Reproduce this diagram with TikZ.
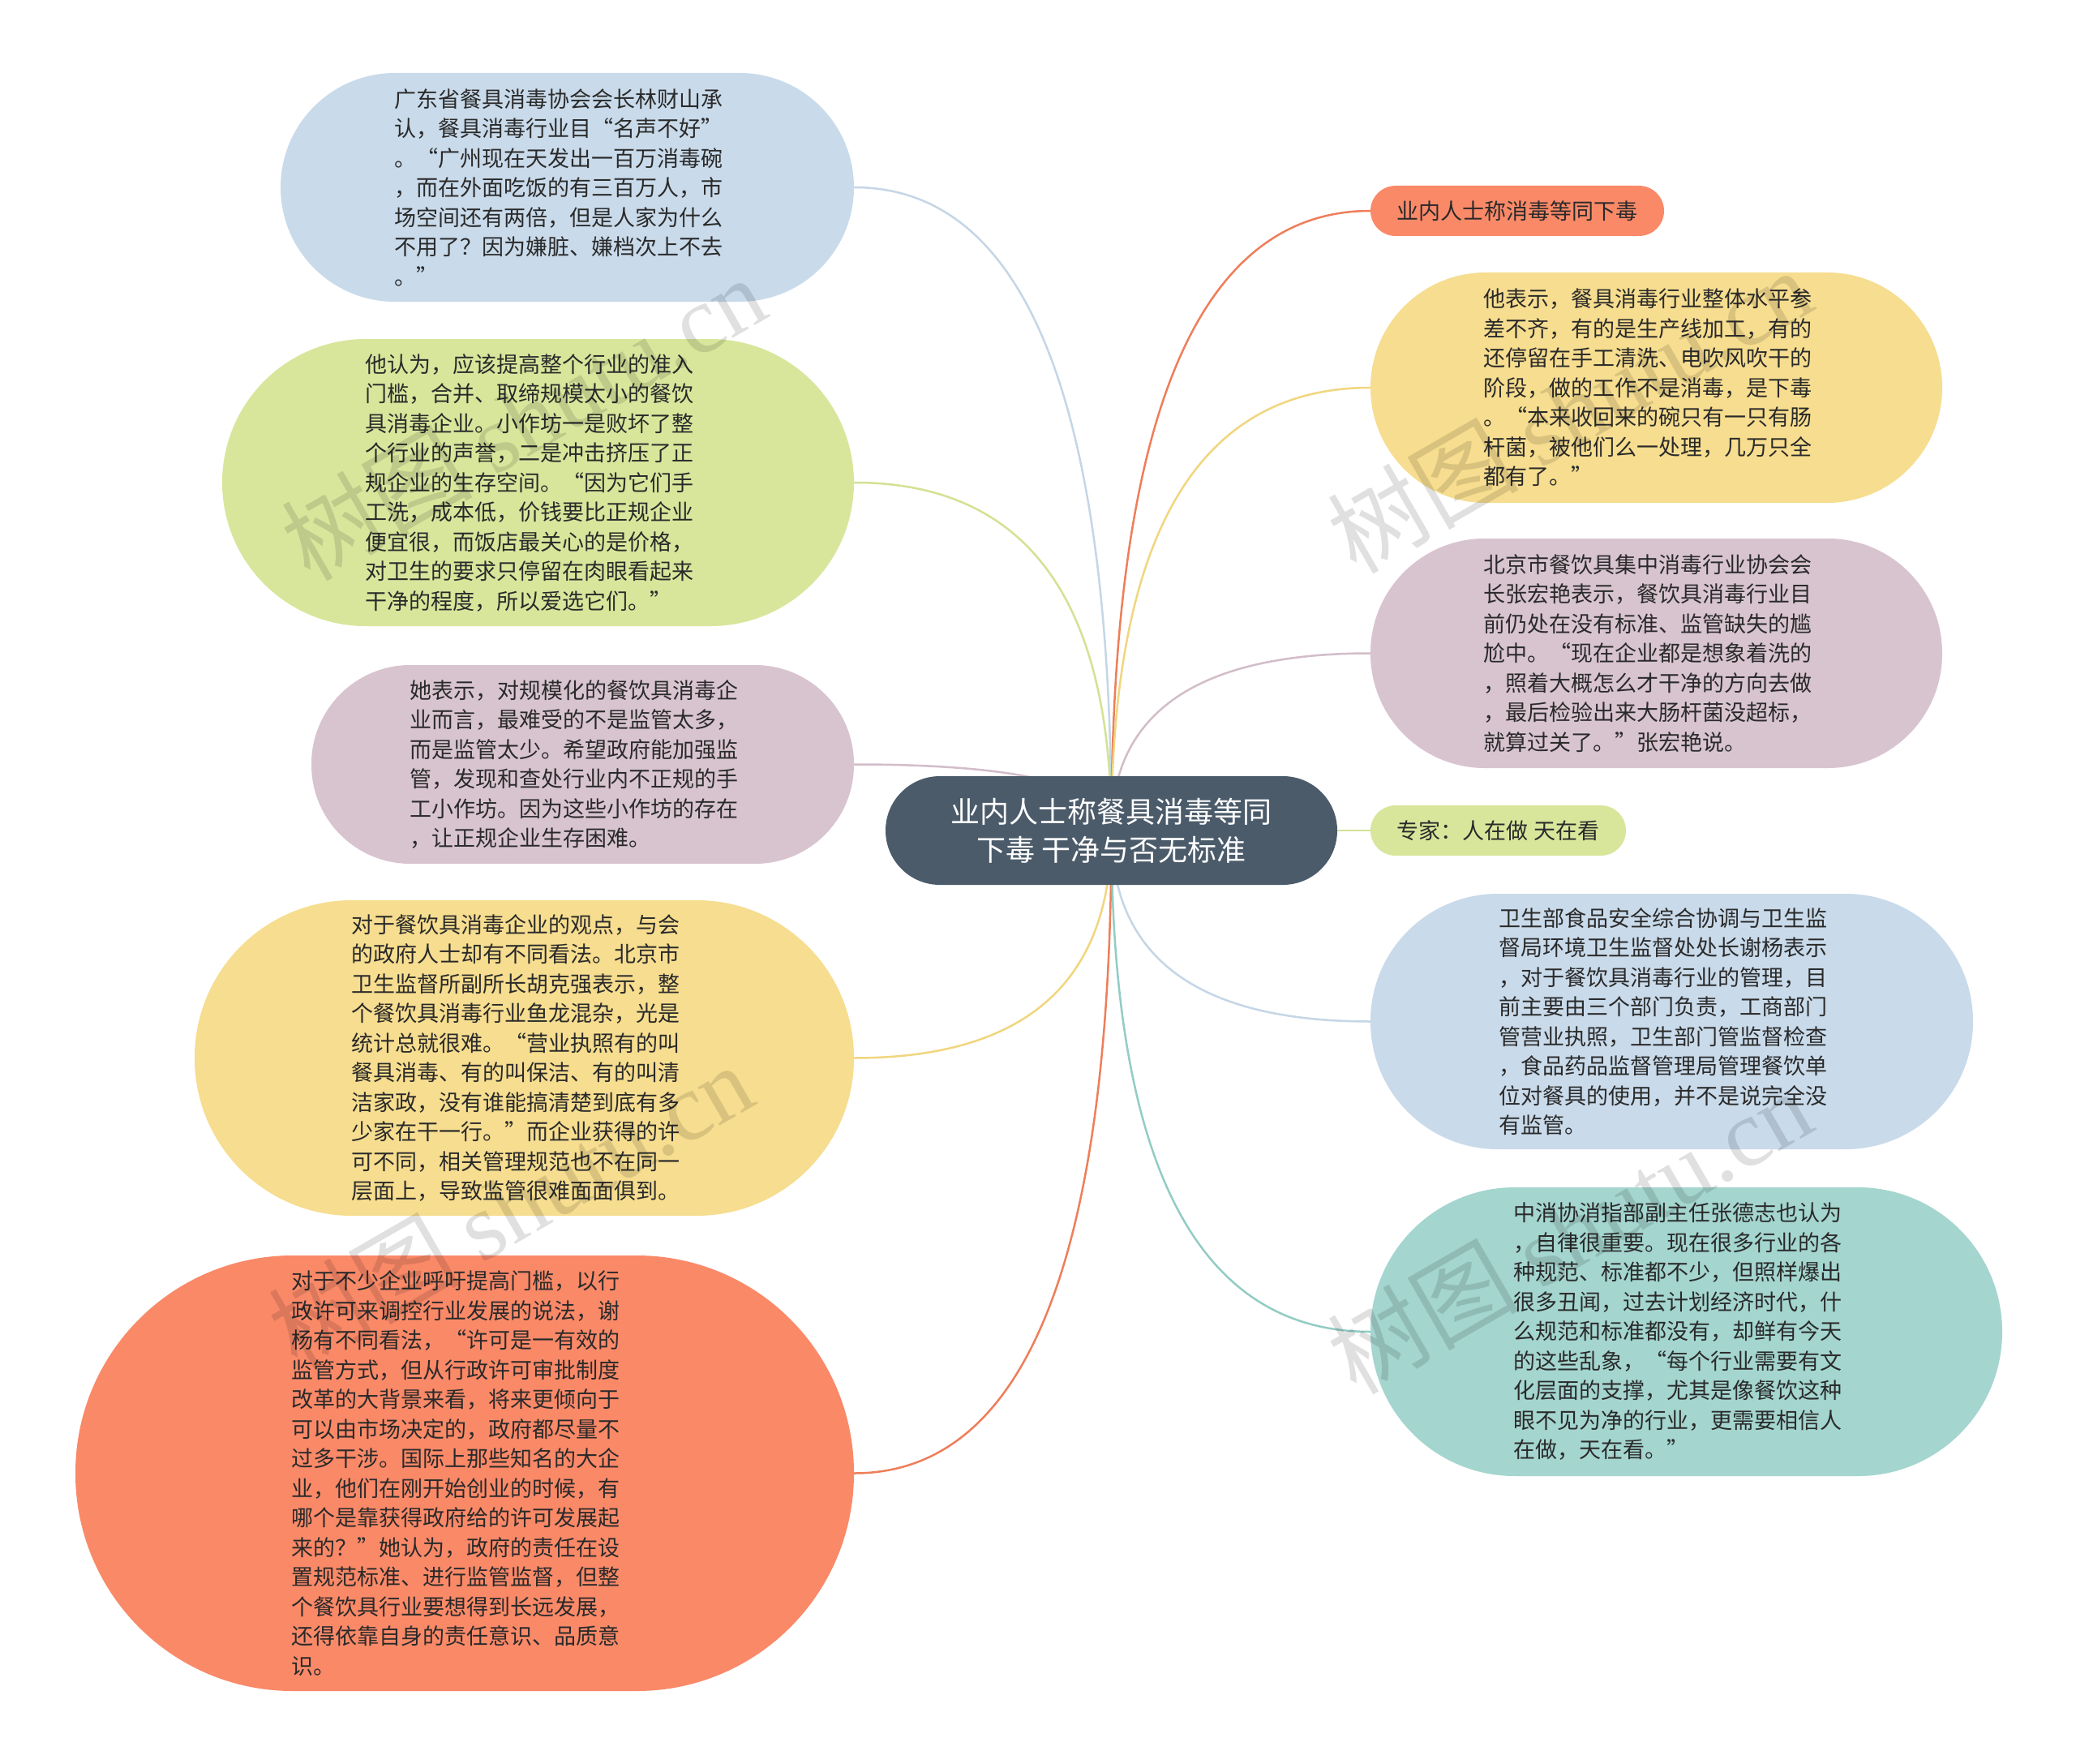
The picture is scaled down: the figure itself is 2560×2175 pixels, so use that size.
\documentclass[tikz,border=0pt]{standalone}
\usepackage{fontspec}
\setmainfont{Noto Sans CJK SC}
\newfontfamily\wmserif{Liberation Serif}
\usetikzlibrary{calc,backgrounds}
\definecolor{txt}{HTML}{2A2A2A}
\definecolor{cblue}{HTML}{C9DAEA}
\definecolor{cgreen}{HTML}{D8E69C}
\definecolor{cpink}{HTML}{D8C4CF}
\definecolor{cyellow}{HTML}{F6DD8F}
\definecolor{corange}{HTML}{FA8968}
\definecolor{cteal}{HTML}{A4D5CF}
\definecolor{croot}{HTML}{4B5B6A}
\definecolor{lblue}{HTML}{C5D6E6}
\definecolor{lgreen}{HTML}{D3E293}
\definecolor{lpink}{HTML}{D2BDC9}
\definecolor{lyellow}{HTML}{F1D67E}
\definecolor{lorange}{HTML}{EE7E5A}
\definecolor{lteal}{HTML}{93CCC4}
\tikzset{
  bubble/.style={draw=none, align=left, inner sep=0pt, text=txt,
    font=\fontsize{27}{36.5}\selectfont},
  bigtext/.style={bubble, text width=427pt},
  rootbox/.style={draw=none, fill=croot, align=center, inner sep=0pt, text=white,
    font=\fontsize{36}{47}\selectfont},
  link/.style={line width=2.5pt},
  wmark/.style={text=black, opacity=0.12, rotate=30, font=\fontsize{118}{118}\selectfont}
}
\newcommand{\myconn}[2]{\draw[link,draw=#1] (root.center) .. controls ($(root.center)!0.6667!(root.center |- #2)$) and ($(#2)!0.6667!(root.center |- #2)$) .. (#2);}
\begin{document}
\begin{tikzpicture}[x=1pt,y=-1pt]
\useasboundingbox (0,0) rectangle (2560,2175);

% root
\node[rootbox, minimum width=557pt, minimum height=134pt, rounded corners=67pt] (root) at (1370.5,1024)
  {业内人士称餐具消毒等同\\下毒 干净与否无标准};

% left nodes
\node[bigtext, fill=cblue, minimum width=707pt, minimum height=282pt, rounded corners=141pt] (n1) at (699.5,231)
{广东省餐具消毒协会会长林财山承\\认，餐具消毒行业目“名声不好”\\。“广州现在天发出一百万消毒碗\\，而在外面吃饭的有三百万人，市\\场空间还有两倍，但是人家为什么\\不用了？因为嫌脏、嫌档次上不去\\。”};

\node[bigtext, fill=cgreen, minimum width=779pt, minimum height=354pt, rounded corners=177pt] (n2) at (663.5,595)
{他认为，应该提高整个行业的准入\\门槛，合并、取缔规模太小的餐饮\\具消毒企业。小作坊一是败坏了整\\个行业的声誉，二是冲击挤压了正\\规企业的生存空间。“因为它们手\\工洗，成本低，价钱要比正规企业\\便宜很，而饭店最关心的是价格，\\对卫生的要求只停留在肉眼看起来\\干净的程度，所以爱选它们。”};

\node[bigtext, fill=cpink, minimum width=669pt, minimum height=245pt, rounded corners=122pt] (n3) at (718.5,942.5)
{她表示，对规模化的餐饮具消毒企\\业而言，最难受的不是监管太多，\\而是监管太少。希望政府能加强监\\管，发现和查处行业内不正规的手\\工小作坊。因为这些小作坊的存在\\，让正规企业生存困难。};

\node[bigtext, fill=cyellow, minimum width=813pt, minimum height=389pt, rounded corners=194pt] (n4) at (646.5,1304.5)
{对于餐饮具消毒企业的观点，与会\\的政府人士却有不同看法。北京市\\卫生监督所副所长胡克强表示，整\\个餐饮具消毒行业鱼龙混杂，光是\\统计总就很难。“营业执照有的叫\\餐具消毒、有的叫保洁、有的叫清\\洁家政，没有谁能搞清楚到底有多\\少家在干一行。”而企业获得的许\\可不同，相关管理规范也不在同一\\层面上，导致监管很难面面俱到。};

\node[bigtext, fill=corange, minimum width=960pt, minimum height=537pt, rounded corners=268pt] (n5) at (573,1816.5)
{对于不少企业呼吁提高门槛，以行\\政许可来调控行业发展的说法，谢\\杨有不同看法，“许可是一有效的\\监管方式，但从行政许可审批制度\\改革的大背景来看，将来更倾向于\\可以由市场决定的，政府都尽量不\\过多干涉。国际上那些知名的大企\\业，他们在刚开始创业的时候，有\\哪个是靠获得政府给的许可发展起\\来的？”她认为，政府的责任在设\\置规范标准、进行监管监督，但整\\个餐饮具行业要想得到长远发展，\\还得依靠自身的责任意识、品质意\\识。};

% right nodes
\node[bubble, fill=corange, minimum width=362pt, minimum height=62pt, rounded corners=31pt] (n7) at (1871,260)
{业内人士称消毒等同下毒};

\node[bigtext, fill=cyellow, minimum width=705pt, minimum height=284pt, rounded corners=142pt] (n8) at (2042.5,478)
{他表示，餐具消毒行业整体水平参\\差不齐，有的是生产线加工，有的\\还停留在手工清洗、电吹风吹干的\\阶段，做的工作不是消毒，是下毒\\。“本来收回来的碗只有一只有肠\\杆菌，被他们么一处理，几万只全\\都有了。”};

\node[bigtext, fill=cpink, minimum width=705pt, minimum height=283pt, rounded corners=141pt] (n9) at (2042.5,805.5)
{北京市餐饮具集中消毒行业协会会\\长张宏艳表示，餐饮具消毒行业目\\前仍处在没有标准、监管缺失的尴\\尬中。“现在企业都是想象着洗的\\，照着大概怎么才干净的方向去做\\，最后检验出来大肠杆菌没超标，\\就算过关了。”张宏艳说。};

\node[bubble, fill=cgreen, minimum width=315pt, minimum height=62pt, rounded corners=31pt] (n10) at (1847.5,1024)
{专家：人在做 天在看};

\node[bigtext, fill=cblue, minimum width=743pt, minimum height=315pt, rounded corners=157pt] (n11) at (2061.5,1259.5)
{卫生部食品安全综合协调与卫生监\\督局环境卫生监督处处长谢杨表示\\，对于餐饮具消毒行业的管理，目\\前主要由三个部门负责，工商部门\\管营业执照，卫生部门管监督检查\\，食品药品监督管理局管理餐饮单\\位对餐具的使用，并不是说完全没\\有监管。};

\node[bigtext, fill=cteal, minimum width=779pt, minimum height=356pt, rounded corners=178pt] (n12) at (2079.5,1642)
{中消协消指部副主任张德志也认为\\，自律很重要。现在很多行业的各\\种规范、标准都不少，但照样爆出\\很多丑闻，过去计划经济时代，什\\么规范和标准都没有，却鲜有今天\\的这些乱象，“每个行业需要有文\\化层面的支撑，尤其是像餐饮这种\\眼不见为净的行业，更需要相信人\\在做，天在看。”};

% connectors (behind nodes)
\begin{scope}[on background layer]
\fill[white] (0,0) rectangle (2560,2175);
\myconn{lblue}{n1.east}
\myconn{lgreen}{n2.east}
\myconn{lpink}{n3.east}
\myconn{lyellow}{n4.east}
\myconn{lorange}{n5.east}
\myconn{lorange}{n7.west}
\myconn{lyellow}{n8.west}
\myconn{lpink}{n9.west}
\draw[link,draw=lgreen] (root.center) -- (n10.west);
\myconn{lblue}{n11.west}
\myconn{lteal}{n12.west}
\end{scope}

% watermarks
\node[wmark] (w1) at (645,515) {树图 {\wmserif shutu.cn}};
\node[wmark] (w2) at (629,1486) {树图 {\wmserif shutu.cn}};
\node[wmark] (w3) at (1935,506) {树图 {\wmserif shutu.cn}};
\node[wmark] (w4) at (1935,1518) {树图 {\wmserif shutu.cn}};
\end{tikzpicture}
\end{document}
